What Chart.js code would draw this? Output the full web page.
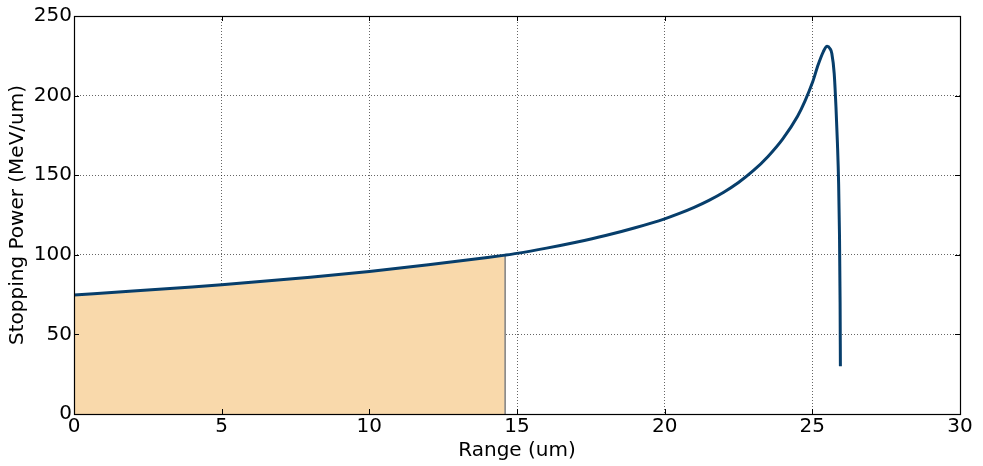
<!DOCTYPE html>
<html>
<head>
<meta charset="utf-8">
<script src="https://cdn.jsdelivr.net/npm/chart.js@4"></script>
<style>
  html, body { margin: 0; padding: 0; background: #fff; }
  #wrap { width: 983px; height: 466px; }
</style>
</head>
<body>
<div id="wrap"><canvas id="c" width="983" height="466"></canvas></div>
<script>
// Depth along the track (um) and stopping power (MeV/um)
const rangeUm = [0, 2, 4, 5, 6, 8, 10, 12, 14, 14.6, 15, 16, 17, 18, 19, 20, 20.5, 21, 21.5, 22, 22.5, 23, 23.5, 24, 24.5, 24.75, 25, 25.2, 25.37, 25.5, 25.6, 25.66, 25.74, 25.8, 25.85, 25.89, 25.92, 25.94, 25.95];
const stoppingPower = [74.8, 77.2, 79.8, 81.2, 82.7, 85.9, 89.5, 93.7, 98.3, 99.8, 100.9, 104.2, 107.9, 112.1, 117.0, 122.6, 126.0, 129.8, 134.2, 139.3, 145.4, 152.8, 161.8, 172.8, 187, 196.5, 208, 219.5, 227.5, 231, 229.5, 226.5, 214, 193, 170, 145, 112, 70, 30];
// Shaded part of the track, from the entry point up to this depth
const shadeEnd = 14.6;
const xTicks = [0, 5, 10, 15, 20, 25, 30];
const yTicks = [0, 50, 100, 150, 200, 250];

const curve = rangeUm.map((x, i) => ({ x, y: stoppingPower[i] }));
const shaded = curve.filter(p => p.x <= shadeEnd);
shaded.push({ x: shadeEnd, y: 0 });

const FONT = 'DejaVu Sans';

// Black frame with inward tick marks on all four sides
const framePlugin = {
  id: 'frame',
  afterDatasetsDraw(chart) {
    const { ctx, chartArea: a, scales: { x, y } } = chart;
    ctx.save();
    ctx.strokeStyle = '#000';
    ctx.lineWidth = 1;
    const len = 5;
    ctx.beginPath();
    xTicks.forEach(v => {
      const px = Math.round(x.getPixelForValue(v)) + 0.5;
      ctx.moveTo(px, a.bottom); ctx.lineTo(px, a.bottom - len);
      ctx.moveTo(px, a.top); ctx.lineTo(px, a.top + len);
    });
    yTicks.forEach(v => {
      const py = Math.round(y.getPixelForValue(v)) + 0.5;
      ctx.moveTo(a.left, py); ctx.lineTo(a.left + len, py);
      ctx.moveTo(a.right, py); ctx.lineTo(a.right - len, py);
    });
    ctx.stroke();
    ctx.lineWidth = 1.2;
    ctx.strokeRect(Math.round(a.left) + 0.5, Math.round(a.top) + 0.5,
                   Math.round(a.right - a.left), Math.round(a.bottom - a.top));
    ctx.restore();
  }
};

new Chart(document.getElementById('c'), {
  type: 'line',
  data: {
    datasets: [
      {
        data: curve,
        borderColor: '#073e6b',
        borderWidth: 3,
        pointRadius: 0,
        cubicInterpolationMode: 'monotone',
        fill: false,
        order: 0
      },
      {
        data: shaded,
        borderColor: '#8a8a8a',
        borderWidth: 1,
        backgroundColor: '#f9d9ab',
        pointRadius: 0,
        tension: 0,
        fill: 'origin',
        order: 1
      }
    ]
  },
  options: {
    responsive: false,
    animation: false,
    events: [],
    layout: { padding: { left: 0, right: 23, top: 16, bottom: 0 } },
    plugins: { legend: { display: false }, tooltip: { enabled: false } },
    scales: {
      x: {
        type: 'linear',
        min: 0, max: 30,
        afterBuildTicks: s => { s.ticks = xTicks.map(v => ({ value: v })); },
        afterFit: s => { s.height = 52; },
        grid: { color: 'rgba(0,0,0,0.6)', lineWidth: 1, drawTicks: false },
        border: { display: false, dash: [1, 2] },
        ticks: { color: '#000', padding: 1, font: { family: FONT, size: 20 }, maxRotation: 0 },
        title: { display: true, text: 'Range (um)', color: '#000',
                 font: { family: FONT, size: 20 }, padding: { top: 0, bottom: 3 } }
      },
      y: {
        type: 'linear',
        min: 0, max: 250,
        afterBuildTicks: s => { s.ticks = yTicks.map(v => ({ value: v })); },
        afterFit: s => { s.width = 74; },
        grid: { color: 'rgba(0,0,0,0.6)', lineWidth: 1, drawTicks: false },
        border: { display: false, dash: [1, 2] },
        ticks: { color: '#000', padding: 2, font: { family: FONT, size: 20 } },
        title: { display: true, text: 'Stopping Power (MeV/um)', color: '#000',
                 font: { family: FONT, size: 20 }, padding: { top: 6, bottom: 0 } }
      }
    }
  },
  plugins: [framePlugin]
});
</script>
</body>
</html>
